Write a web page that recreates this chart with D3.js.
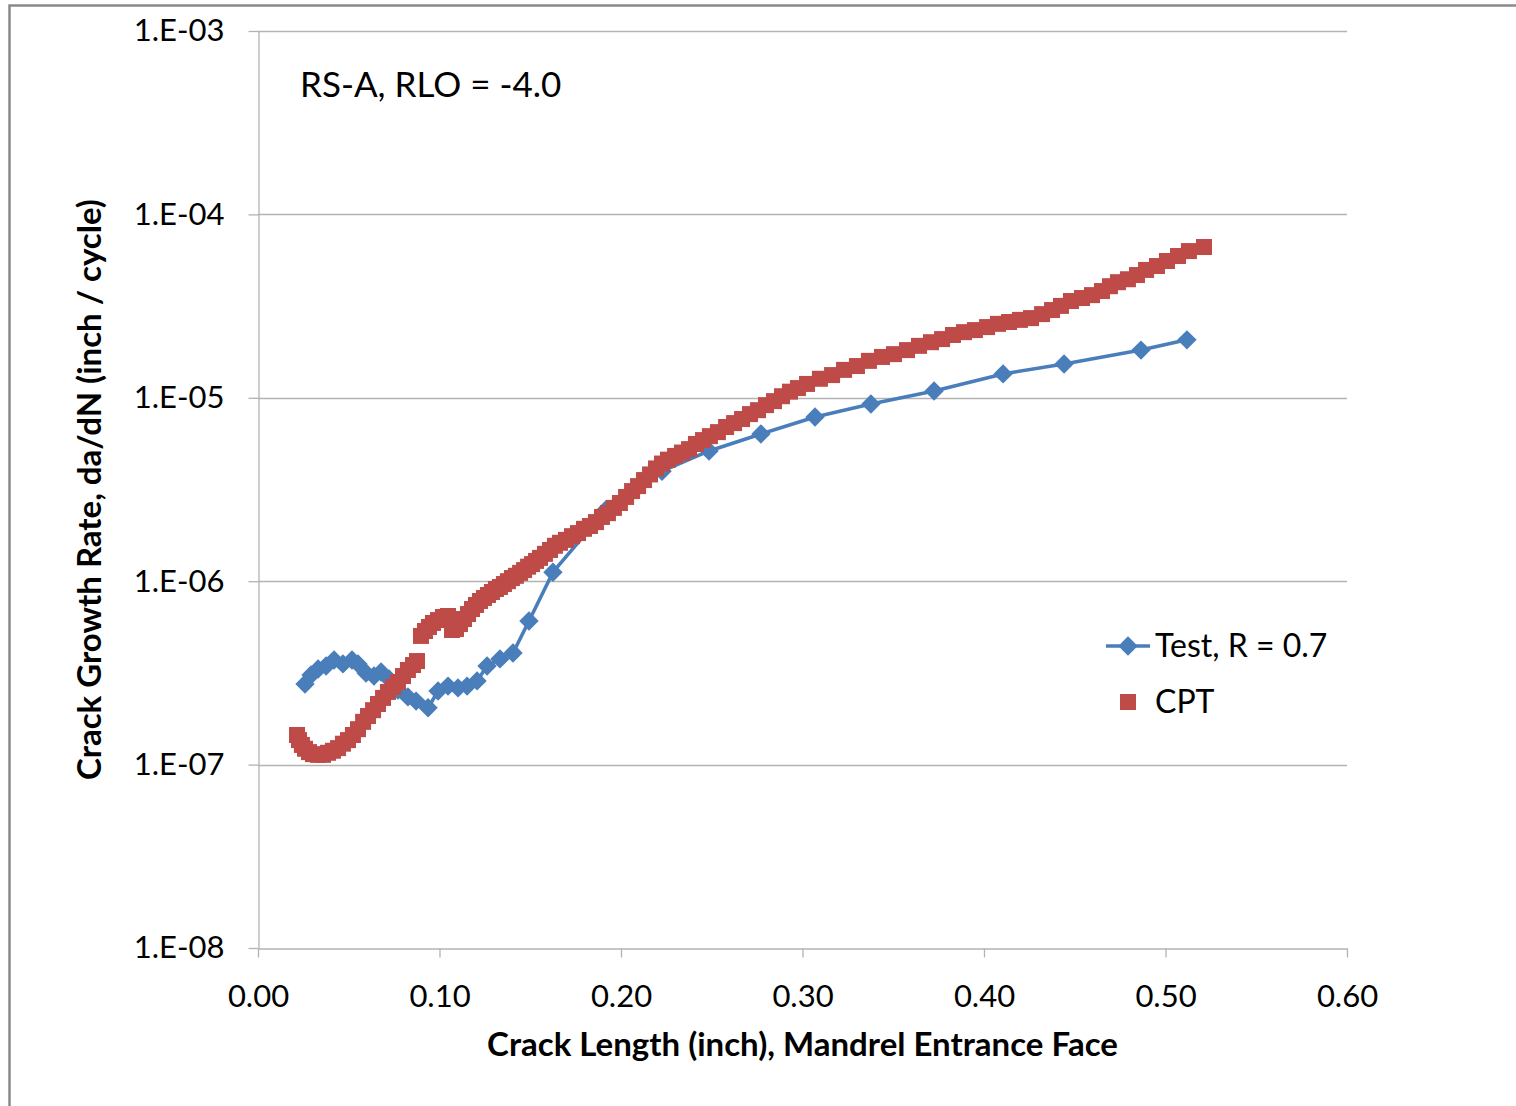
<!DOCTYPE html>
<html>
<head>
<meta charset="utf-8">
<script src="https://cdn.jsdelivr.net/npm/d3@7"></script>
<style>
  html, body { margin: 0; padding: 0; background: #fff; }
  svg { display: block; }
  text { font-family: Lato, "Open Sans", sans-serif; fill: #000; }
</style>
</head>
<body>
<svg id="chart" width="1516" height="1106"></svg>
<script>
// ---- data ----
const xTicks = [0, 0.1, 0.2, 0.3, 0.4, 0.5, 0.6];
const yTicks = [1e-8, 1e-7, 1e-6, 1e-5, 1e-4, 1e-3];
const yTickLabels = ["1.E-08", "1.E-07", "1.E-06", "1.E-05", "1.E-04", "1.E-03"];

const testX = [0.0259, 0.0292, 0.0331, 0.0375, 0.0419, 0.0468, 0.0518, 0.0551, 0.0595, 0.0639,
  0.0678, 0.0722, 0.0771, 0.0826, 0.0871, 0.0937, 0.0992, 0.1047, 0.1102, 0.1152,
  0.1207, 0.1262, 0.1333, 0.1405, 0.1493, 0.1625, 0.1917, 0.2226, 0.2485, 0.2771,
  0.3069, 0.3377, 0.3725, 0.4105, 0.4441, 0.4865, 0.5118];
const testY = [2.75e-7, 3.08e-7, 3.32e-7, 3.45e-7, 3.72e-7, 3.54e-7, 3.72e-7, 3.54e-7, 3.16e-7, 3.04e-7,
  3.20e-7, 2.93e-7, 2.55e-7, 2.34e-7, 2.22e-7, 2.04e-7, 2.52e-7, 2.68e-7, 2.62e-7, 2.68e-7,
  2.86e-7, 3.45e-7, 3.77e-7, 4.06e-7, 6.07e-7, 1.12e-6, 2.45e-6, 3.98e-6, 5.13e-6, 6.35e-6,
  7.86e-6, 9.25e-6, 1.09e-5, 1.35e-5, 1.53e-5, 1.82e-5, 2.07e-5];

const cptX = [0.0215, 0.0226, 0.0242, 0.0259, 0.0281, 0.0303, 0.0331, 0.0358, 0.0386, 0.0413,
  0.0441, 0.0468, 0.0496, 0.0523, 0.0551, 0.0579, 0.0606, 0.0634, 0.0661, 0.0689,
  0.0716, 0.0744, 0.0771, 0.0799, 0.0826, 0.0854, 0.0876,
  0.0898, 0.0920, 0.0942, 0.0964, 0.0992, 0.1019, 0.1047, 0.1069, 0.1091, 0.1113,
  0.1135, 0.1157, 0.1179, 0.1201, 0.1223, 0.1245, 0.1267, 0.1289, 0.1311, 0.1333,
  0.1355, 0.1377, 0.1399, 0.1421, 0.1444, 0.1466, 0.1488, 0.1510, 0.1532, 0.1554,
  0.1581, 0.1609, 0.1636, 0.1664, 0.1697, 0.1730, 0.1763, 0.1796, 0.1829, 0.1862,
  0.1895, 0.1928, 0.1961, 0.1994, 0.2028, 0.2061, 0.2094, 0.2127, 0.2160, 0.2193,
  0.2226, 0.2259, 0.2298, 0.2336, 0.2375, 0.2413, 0.2452, 0.2490, 0.2534, 0.2579,
  0.2623, 0.2667, 0.2711, 0.2755, 0.2799, 0.2843, 0.2887, 0.2931, 0.2975, 0.3025,
  0.3096, 0.3163, 0.3229, 0.3300, 0.3366, 0.3438, 0.3504, 0.3576, 0.3642, 0.3708,
  0.3769, 0.3829, 0.3890, 0.3950, 0.4017, 0.4077, 0.4138, 0.4198, 0.4259, 0.4320,
  0.4375, 0.4424, 0.4479, 0.4540, 0.4595, 0.4650, 0.4694, 0.4738, 0.4793, 0.4843,
  0.4893, 0.4953, 0.5008, 0.5069, 0.5129, 0.5212];
const cptY = [1.45e-7, 1.36e-7, 1.28e-7, 1.22e-7, 1.17e-7, 1.14e-7, 1.13e-7, 1.13e-7, 1.16e-7, 1.19e-7,
  1.23e-7, 1.30e-7, 1.36e-7, 1.45e-7, 1.56e-7, 1.71e-7, 1.84e-7, 1.98e-7, 2.14e-7, 2.31e-7,
  2.49e-7, 2.65e-7, 2.82e-7, 3.04e-7, 3.28e-7, 3.49e-7, 3.67e-7,
  5.03e-7, 5.35e-7, 5.63e-7, 5.92e-7, 6.14e-7, 6.38e-7, 6.46e-7, 5.42e-7, 5.49e-7, 5.84e-7,
  6.22e-7, 6.62e-7, 7.05e-7, 7.42e-7, 7.80e-7, 8.10e-7, 8.41e-7, 8.73e-7, 9.07e-7, 9.30e-7,
  9.65e-7, 1.00e-6, 1.04e-6, 1.07e-6, 1.11e-6, 1.15e-6, 1.20e-6, 1.24e-6, 1.29e-6, 1.34e-6,
  1.41e-6, 1.48e-6, 1.56e-6, 1.62e-6, 1.68e-6, 1.76e-6, 1.83e-6, 1.93e-6, 2.00e-6, 2.10e-6,
  2.24e-6, 2.35e-6, 2.51e-6, 2.67e-6, 2.88e-6, 3.10e-6, 3.30e-6, 3.56e-6, 3.82e-6, 4.12e-6,
  4.38e-6, 4.60e-6, 4.82e-6, 5.03e-6, 5.25e-6, 5.60e-6, 5.88e-6, 6.18e-6, 6.50e-6, 6.93e-6,
  7.28e-6, 7.66e-6, 8.15e-6, 8.56e-6, 9.12e-6, 9.59e-6, 1.02e-5, 1.08e-5, 1.13e-5, 1.19e-5,
  1.27e-5, 1.33e-5, 1.42e-5, 1.49e-5, 1.59e-5, 1.67e-5, 1.73e-5, 1.82e-5, 1.92e-5, 2.01e-5,
  2.09e-5, 2.20e-5, 2.28e-5, 2.34e-5, 2.43e-5, 2.53e-5, 2.59e-5, 2.66e-5, 2.72e-5, 2.86e-5,
  3.01e-5, 3.17e-5, 3.37e-5, 3.50e-5, 3.63e-5, 3.82e-5, 4.06e-5, 4.27e-5, 4.43e-5, 4.67e-5,
  4.98e-5, 5.23e-5, 5.57e-5, 5.93e-5, 6.31e-5, 6.64e-5];

const seriesNames = ["Test, R = 0.7", "CPT"];
const annotation = "RS-A, RLO = -4.0";
const xTitle = "Crack Length (inch), Mandrel Entrance Face";
const yTitle = "Crack Growth Rate, da/dN (inch / cycle)";

// ---- drawing ----
const blue = "#4A7EBB";
const red = "#BE4B48";
const gridColor = "#B3B3B3";

const svg = d3.select("#chart");
const plot = { left: 258, right: 1347, top: 31, bottom: 948 };

const x = d3.scaleLinear().domain([0, 0.6]).range([plot.left, plot.right]);
const y = d3.scaleLog().domain([1e-8, 1e-3]).range([plot.bottom, plot.top]);

// outer frame
svg.append("rect")
  .attr("x", 9.5).attr("y", 5.5).attr("width", 1530).attr("height", 1130)
  .attr("fill", "#fff").attr("stroke", "#8a8a8a").attr("stroke-width", 2.5);

// gridlines
svg.append("g").selectAll("line")
  .data(yTicks.slice(1))
  .join("line")
  .attr("x1", plot.left).attr("x2", plot.right)
  .attr("y1", d => Math.round(y(d)) + 0.5).attr("y2", d => Math.round(y(d)) + 0.5)
  .attr("stroke", gridColor).attr("stroke-width", 1.3);

// axes
const yAxis = d3.axisLeft(y)
  .tickValues(yTicks)
  .tickFormat((d, i) => yTickLabels[i])
  .tickSize(10).tickSizeOuter(0).tickPadding(24);
const gy = svg.append("g").attr("transform", `translate(${plot.left + 0.5},0)`).call(yAxis);

const xAxis = d3.axisBottom(x)
  .tickValues(xTicks)
  .tickFormat(d3.format(".2f"))
  .tickSize(9).tickSizeOuter(0).tickPadding(27);
const gx = svg.append("g").attr("transform", `translate(0,${plot.bottom + 0.5})`).call(xAxis);

[gx, gy].forEach(g => {
  g.selectAll("path.domain").attr("stroke", gridColor).attr("stroke-width", 1.3);
  g.selectAll(".tick line").attr("stroke", gridColor).attr("stroke-width", 1.3);
  g.selectAll(".tick text").attr("font-family", "Lato, 'Open Sans', sans-serif")
    .attr("font-size", 31).attr("fill", "#000");
});

// Test line + diamonds (drawn first; CPT squares sit on top)
const testData = testX.map((d, i) => [d, testY[i]]);
svg.append("path")
  .datum(testData)
  .attr("fill", "none")
  .attr("stroke", blue)
  .attr("stroke-width", 3.6)
  .attr("stroke-linejoin", "round")
  .attr("d", d3.line().x(d => x(d[0])).y(d => y(d[1])));

const diamond = d3.symbol().type(d3.symbolDiamond2).size(240);
svg.append("g").selectAll("path")
  .data(testData)
  .join("path")
  .attr("transform", d => `translate(${x(d[0])},${y(d[1])})`)
  .attr("d", diamond)
  .attr("fill", blue);

// CPT squares
const sq = 16;
const cptData = cptX.map((d, i) => [d, cptY[i]]);
svg.append("g").selectAll("rect")
  .data(cptData)
  .join("rect")
  .attr("x", d => x(d[0]) - sq / 2)
  .attr("y", d => y(d[1]) - sq / 2)
  .attr("width", sq).attr("height", sq)
  .attr("fill", red);

// annotation
svg.append("text")
  .attr("x", 300).attr("y", 97)
  .attr("font-size", 35)
  .text(annotation);

// legend
const lg = svg.append("g");
lg.append("line").attr("x1", 1106).attr("x2", 1150).attr("y1", 646).attr("y2", 646)
  .attr("stroke", blue).attr("stroke-width", 3.6);
lg.append("path").attr("transform", "translate(1128,646)").attr("d", diamond).attr("fill", blue);
lg.append("text").attr("x", 1155).attr("y", 657).attr("font-size", 32).text(seriesNames[0]);
lg.append("rect").attr("x", 1120).attr("y", 694).attr("width", 16).attr("height", 16).attr("fill", red);
lg.append("text").attr("x", 1155).attr("y", 713).attr("font-size", 32).text(seriesNames[1]);

// axis titles
svg.append("text")
  .attr("x", (plot.left + plot.right) / 2).attr("y", 1056)
  .attr("text-anchor", "middle")
  .attr("font-size", 33).attr("font-weight", "bold")
  .text(xTitle);

svg.append("text")
  .attr("transform", `translate(101,${(plot.top + plot.bottom) / 2}) rotate(-90)`)
  .attr("text-anchor", "middle")
  .attr("font-size", 33).attr("font-weight", "bold")
  .text(yTitle);
</script>
</body>
</html>
